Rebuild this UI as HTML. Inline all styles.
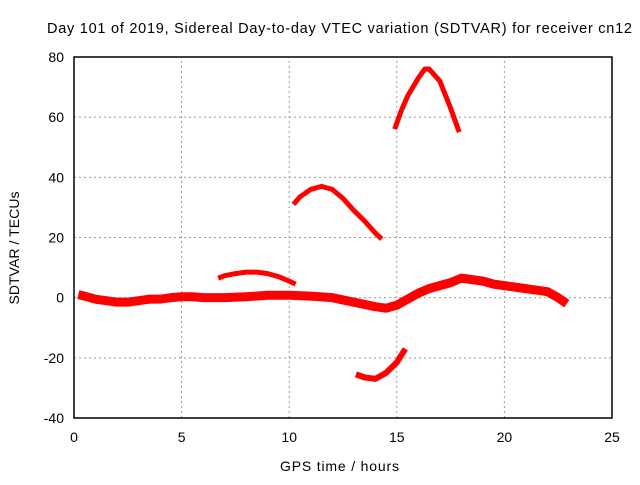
<!DOCTYPE html>
<html><head><meta charset="utf-8"><style>
body{margin:0;background:#fff}
svg text{font-family:"Liberation Sans",sans-serif;font-size:14px;fill:#000}
</style></head><body>
<svg id="chart" width="640" height="480" xmlns="http://www.w3.org/2000/svg">
<text x="47" y="33" textLength="585" lengthAdjust="spacing" style="font-size:14.5px">Day 101 of 2019, Sidereal Day-to-day VTEC variation (SDTVAR) for receiver cn12</text>
<g id="grid"></g><g id="series"></g><g id="axes"></g>
<text x="280" y="471" textLength="119" lengthAdjust="spacing">GPS time / hours</text>
<text transform="translate(19,248) rotate(-90)" text-anchor="middle" textLength="113" lengthAdjust="spacing">SDTVAR / TECUs</text>
</svg>
<script>
const xTicks=[0,5,10,15,20,25];
const yTicks=[-40,-20,0,20,40,60,80];
const bandHours=[0.2,0.5,1,1.5,2,2.5,3,3.5,4,4.5,5,5.5,6,7,8,9,10,11,12,13,14,14.5,15,15.5,16,16.5,17,17.5,18,18.5,19,19.5,20,20.5,21,21.5,22,22.5,22.9];
const bandValues=[1,0.5,-0.5,-1,-1.5,-1.5,-1,-0.5,-0.5,0,0.3,0.3,0,0,0.3,0.8,0.8,0.5,0,-1.5,-3,-3.5,-2.5,-0.5,1.5,3,4,5,6.5,6,5.5,4.5,4,3.5,3,2.5,2,0,-2];
const arc1Hours=[6.7,7,7.5,8,8.5,9,9.5,10,10.3];
const arc1Values=[6.5,7.3,8,8.5,8.5,8,7,5.5,4.5];
const arc2Hours=[10.2,10.5,11,11.5,12,12.5,13,13.5,14,14.3];
const arc2Values=[31,33.5,36,37,36,33,29,25.5,21.5,19.5];
const arc3Hours=[14.9,15.2,15.5,16,16.3,16.5,17,17.5,17.9];
const arc3Values=[56,62,67,73,76,76,72,63,55];
const arc4Hours=[13.1,13.5,14,14.5,15,15.4];
const arc4Values=[-25.5,-26.5,-27,-25,-21.5,-17];
const X0=74,X1=612,Y0=418,Y1=57;
const xs=v=>X0+(v-0)/25*(X1-X0);
const ys=v=>Y0-(v+40)/120*(Y0-Y1);
const NS="http://www.w3.org/2000/svg";
function mk(t,a,p){const e=document.createElementNS(NS,t);for(const k in a)e.setAttribute(k,a[k]);p.appendChild(e);return e;}
const grid=document.getElementById('grid'),axes=document.getElementById('axes'),ser=document.getElementById('series');
xTicks.forEach(t=>{
 if(t>0&&t<25){const g=mk('line',{x1:xs(t),x2:xs(t),y1:Y0,y2:Y1,stroke:'#999','stroke-dasharray':'2,3'},grid);
 
 }
 const l=mk('text',{x:xs(t),y:Y0+24,'text-anchor':'middle'},axes);l.textContent=t;
 
 
});
yTicks.forEach(t=>{
 if(t>-40&&t<80){const g=mk('line',{x1:X0,x2:X1,y1:ys(t),y2:ys(t),stroke:'#999','stroke-dasharray':'2,3'},grid);
 
 }
 const l=mk('text',{x:X0-10,y:ys(t)+5,'text-anchor':'end'},axes);l.textContent=t;
 
 
});
const fr=mk('rect',{x:X0,y:Y1,width:X1-X0,height:Y0-Y1,fill:'none',stroke:'#000','stroke-width':1.5},axes);


function line(h,v,w,name){
 const p=mk('polyline',{points:h.map((x,i)=>xs(x)+','+ys(v[i])).join(' '),fill:'none',stroke:'#f00','stroke-width':w,'stroke-linejoin':'round','stroke-linecap':'butt'},ser);
 
 
}
line(bandHours,bandValues,9,'main-band-series');
line(arc1Hours,arc1Values,5,'arc-series-1');
line(arc2Hours,arc2Values,5,'arc-series-2');
line(arc3Hours,arc3Values,5,'arc-series-3');
line(arc4Hours,arc4Values,6,'arc-series-4');
</script>
</body></html>
